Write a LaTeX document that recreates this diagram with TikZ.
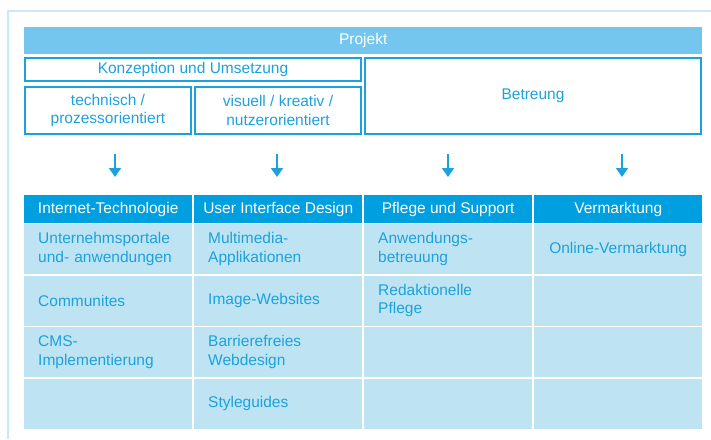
\documentclass[tikz,border=0pt]{standalone}
\usepackage{fontspec}
\setmainfont{Liberation Sans}
\usetikzlibrary{arrows.meta,positioning}

\definecolor{projblue}{HTML}{74C6EE}
\definecolor{lineblue}{HTML}{1BA2DD}
\definecolor{headblue}{HTML}{009FE0}
\definecolor{cellblue}{HTML}{BEE4F3}
\definecolor{frameblue}{HTML}{C8EAF8}

\begin{document}
\begin{tikzpicture}[x=1pt, y=-1pt,
  font=\fontsize{15.5}{18.5}\selectfont,
  topbar/.style={fill=projblue, text=white, minimum width=678pt, minimum height=27pt, inner sep=0pt, anchor=north west},
  framebox/.style={draw=lineblue, line width=2pt, text=lineblue, align=center, inner sep=0pt, anchor=north west},
  head/.style={fill=headblue, text=white, minimum width=168pt, minimum height=28pt, inner sep=0pt, anchor=north west},
  cell/.style={fill=cellblue, text=lineblue, text width=140pt, inner xsep=14pt, inner ysep=0pt, minimum height=50pt, align=left, anchor=north west},
  arr/.style={draw=lineblue, line width=1.6pt, -{Triangle[width=12pt,length=9pt]}}
]
\useasboundingbox (0,0) rectangle (711,439);

% Frame
\draw[frameblue, line width=2pt] (711,10.5) -- (7.5,10.5) -- (7.5,439);

% Top part
\node[topbar] (projekt) at (24,27) {Projekt};
\node[framebox, minimum width=336pt, minimum height=23pt] (konzept) at (24,57) {Konzeption und Umsetzung};
\node[framebox, minimum width=336pt, minimum height=76pt] (betreuung) at (364,57) {Betreung};
\node[framebox, minimum width=166pt, minimum height=47pt] (technisch) at (24,86) {technisch /\\prozessorientiert};
\node[framebox, minimum width=166pt, minimum height=47pt] (visuell) at (194,86) {visuell / kreativ /\\nutzerorientiert};

% Arrows
\foreach \x [count=\i] in {115,277,448,622} {
  \coordinate (top\i) at (\x,154);
  \coordinate (bot\i) at (\x,177);
  \draw[arr] (top\i) -- (bot\i);
}

% Table head
\node[head] (hInet) at (24,195) {Internet-Technologie};
\node[head] (hUser) at (194,195) {User Interface Design};
\node[head] (hPflege) at (364,195) {Pflege und Support};
\node[head] (hMarkt) at (534,195) {Vermarktung};

% Column 1
\node[cell] (c11) at (24,224) {Unternehmsportale\\und- anwendungen};
\node[cell] (c12) at (24,275.5) {Communites};
\node[cell] (c13) at (24,327) {CMS-\\Implementierung};
\node[cell] (c14) at (24,378.5) {};

% Column 2
\node[cell] (c21) at (194,224) {Multimedia-\\Applikationen};
\node[cell] (c22) at (194,275.5) {Image-Websites};
\node[cell] (c23) at (194,327) {Barrierefreies\\Webdesign};
\node[cell] (c24) at (194,378.5) {Styleguides};

% Column 3
\node[cell] (c31) at (364,224) {Anwendungs-\\betreuung};
\node[cell] (c32) at (364,275.5) {Redaktionelle\\Pflege};
\node[cell] (c33) at (364,327) {};
\node[cell] (c34) at (364,378.5) {};

% Column 4
\node[cell, align=center] (c41) at (534,224) {Online-Vermarktung};
\node[cell] (c42) at (534,275.5) {};
\node[cell] (c43) at (534,327) {};
\node[cell] (c44) at (534,378.5) {};

\end{tikzpicture}
\end{document}
